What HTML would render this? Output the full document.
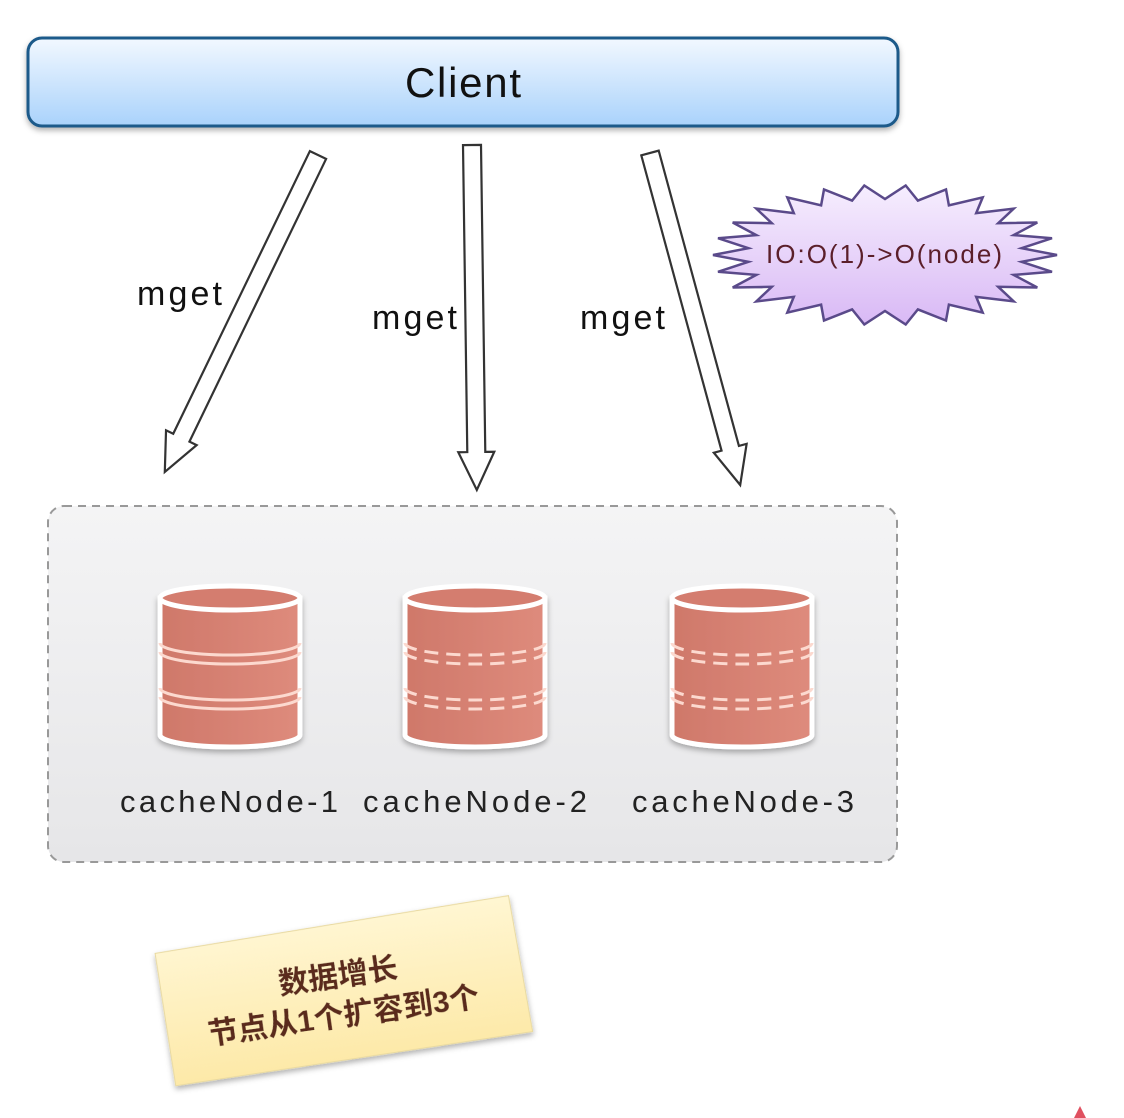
<!DOCTYPE html>
<html><head><meta charset="utf-8"><style>
html,body{margin:0;padding:0;background:#fff;}
svg{display:block;}
</style></head><body>
<svg width="1124" height="1118" viewBox="0 0 1124 1118" xmlns="http://www.w3.org/2000/svg">
<defs>
<linearGradient id="cg" x1="0" y1="0" x2="0" y2="1">
<stop offset="0" stop-color="#f2f8ff"/><stop offset="1" stop-color="#a9d2fb"/></linearGradient>
<linearGradient id="bg" x1="0" y1="0" x2="0" y2="1">
<stop offset="0" stop-color="#f4f4f5"/><stop offset="1" stop-color="#e6e6e8"/></linearGradient>
<linearGradient id="sg" x1="0" y1="0" x2="0" y2="1">
<stop offset="0" stop-color="#f6eefe"/><stop offset="1" stop-color="#d9b9f5"/></linearGradient>
<linearGradient id="ng" x1="0" y1="0" x2="0" y2="1">
<stop offset="0" stop-color="#fff6d2"/><stop offset="1" stop-color="#fde9a8"/></linearGradient>
<linearGradient id="dg" x1="0" y1="0" x2="1" y2="0">
<stop offset="0" stop-color="#cf786a"/><stop offset="1" stop-color="#de8b7c"/></linearGradient>
<filter id="sh" x="-10%" y="-10%" width="130%" height="140%"><feDropShadow dx="0" dy="3" stdDeviation="3" flood-opacity="0.3"/></filter>
</defs>
<rect x="28" y="38" width="870" height="88" rx="14" fill="url(#cg)" stroke="#1f5a8a" stroke-width="3" filter="url(#sh)"/>
<text x="405" y="97" font-family="Liberation Sans, sans-serif" font-size="42" textLength="116" fill="#111">Client</text>

<g fill="#fff" stroke="#333" stroke-width="2.2" stroke-linejoin="miter">
<g transform="translate(318,155) rotate(25.8)"><polygon points="-9,0 9,0 9,314 17,314 0,352 -17,314 -9,314"/></g>
<g transform="translate(472,145)"><polygon points="-9,0 9,0 9,307 18,307 0,345 -18,307 -9,307" transform="rotate(-0.8)"/></g>
<g transform="translate(650,153) rotate(-15.2)"><polygon points="-9,0 9,0 9,306 17,306 0,344 -17,306 -9,306"/></g>
</g>
<g font-family="Liberation Sans, sans-serif" font-size="34" fill="#111">
<text x="137" y="305" textLength="85">mget</text><text x="372" y="329" textLength="85">mget</text><text x="580" y="329" textLength="85">mget</text>
</g>

<polygon id="star" fill="url(#sg)" stroke="#5a4a8a" stroke-width="2.5" points=""/>
<text x="766" y="263" font-family="Liberation Sans, sans-serif" font-size="26" textLength="236" fill="#5b1f2a">IO:O(1)-&gt;O(node)</text>

<rect x="48" y="506" width="849" height="356" rx="16" fill="url(#bg)" stroke="#999" stroke-width="2" stroke-dasharray="8,6"/>

<g id="cyls"></g>
<g font-family="Liberation Sans, sans-serif" font-size="31" fill="#222">
<text x="120" y="812" textLength="218">cacheNode-1</text><text x="363" y="812" textLength="224">cacheNode-2</text><text x="632" y="812" textLength="222">cacheNode-3</text>
</g>

<g transform="translate(340,990) rotate(-8)" filter="url(#sh)">
<polygon points="-178,-62 180,-70 185,68 -176,72" fill="url(#ng)" stroke="#e8d9a0" stroke-width="1"/>
<g font-family="Liberation Sans, Noto Sans CJK SC, sans-serif" font-size="30" font-weight="bold" fill="#5a2a1e" text-anchor="middle">
<text x="0" y="-4">数据增长</text><text x="0" y="36">节点从1个扩容到3个</text></g>
</g>
<path d="M1074 1118 L1080 1106 L1086 1118 Z" fill="#e05060"/>
</svg>
<script>
var pts=[],cx=885,cy=255,n=26;
for(var i=0;i<n*2;i++){var a=Math.PI*i/n,r=(i%2)?0.8:1;pts.push((cx+172*r*Math.cos(a)).toFixed(1)+","+(cy+70*r*Math.sin(a)).toFixed(1));}
document.getElementById("star").setAttribute("points",pts.join(" "));
var g=document.getElementById("cyls"),s="";
[[160,0],[405,1],[672,1]].forEach(function(c){
var x=c[0],w=140,t=598,b=735,ry=12,d=c[1]?' stroke-dasharray="14,8"':'';
s+='<path d="M'+x+' '+t+' L'+x+' '+b+' A'+(w/2)+' '+ry+' 0 0 0 '+(x+w)+' '+b+' L'+(x+w)+' '+t+' Z" fill="url(#dg)" stroke="#fff" stroke-width="5" filter="url(#sh)"/>';
s+='<ellipse cx="'+(x+w/2)+'" cy="'+t+'" rx="'+(w/2)+'" ry="'+ry+'" fill="#d47d6f" stroke="#fff" stroke-width="5"/>';
[643,652,688,697].forEach(function(y){s+='<path d="M'+x+' '+y+' A'+(w/2)+' '+ry+' 0 0 0 '+(x+w)+' '+y+'" fill="none" stroke="#fcd9cf" stroke-width="3"'+d+'/>';});
});
g.innerHTML=s;
</script>
</body></html>
